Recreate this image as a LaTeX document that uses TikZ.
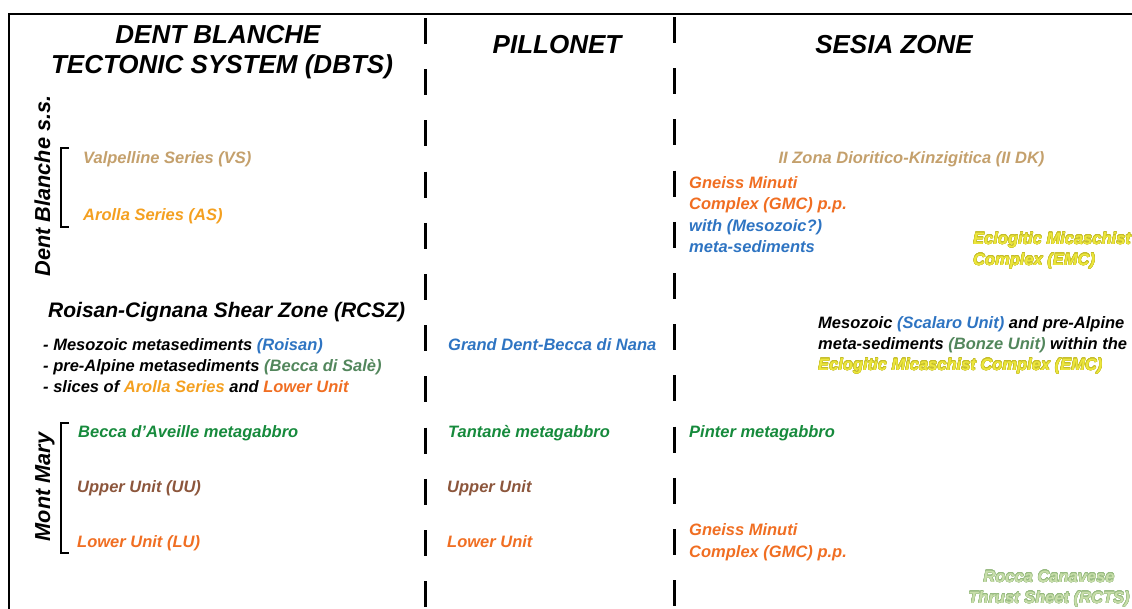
\documentclass[tikz,border=0pt]{standalone}
\usepackage{fontspec}
\setmainfont{Liberation Sans}
\usepackage{contour}
\contourlength{0.28pt}
\definecolor{ctan}{RGB}{196,160,108}
\definecolor{carolla}{RGB}{244,160,32}
\definecolor{corange}{RGB}{240,110,34}
\definecolor{cblue}{RGB}{46,116,194}
\definecolor{cgreen}{RGB}{22,138,60}
\definecolor{cgreygreen}{RGB}{82,134,92}
\definecolor{cbrown}{RGB}{140,86,60}
\definecolor{cyellowfill}{RGB}{236,230,60}
\definecolor{cyellowline}{RGB}{196,188,40}
\definecolor{crctsfill}{RGB}{200,222,170}
\definecolor{crctsline}{RGB}{150,186,128}
\tikzset{
  frame/.style={line width=2pt, black},
  sepline/.style={line width=3pt, black, dash pattern=on 26pt off 25.2pt},
  bracketline/.style={line width=1.8pt, black},
  txt/.style={inner sep=0pt, anchor=base west, font=\fontsize{16.5}{19}\selectfont\bfseries\itshape},
  ctxt/.style={txt, anchor=base},
  title/.style={inner sep=0pt, anchor=base, font=\fontsize{26}{30}\selectfont\bfseries\itshape},
  subtitle/.style={inner sep=0pt, anchor=base west, font=\fontsize{21}{25}\selectfont\bfseries\itshape},
  vlabel/.style={inner sep=0pt, anchor=base, rotate=90, font=\fontsize{21.7}{25}\selectfont\bfseries\itshape},
}
\newcommand{\emcout}[1]{{\color{cyellowfill}\contour{cyellowline}{#1}}}
\newcommand{\rctsout}[1]{{\color{crctsfill}\contour{crctsline}{#1}}}
\begin{document}
\begin{tikzpicture}[x=1pt,y=-1pt]
\useasboundingbox (0,0) rectangle (1132,608);
\clip (0,0) rectangle (1132,608);
% frame
\coordinate (fbl) at (9,609);
\coordinate (ftl) at (9,14);
\coordinate (ftr) at (1133,14);
\draw[frame] (fbl) -- (ftl) -- (ftr);
% column separators
\coordinate (s1t) at (425,18);
\coordinate (s1b) at (425,640);
\coordinate (s2t) at (674,17);
\coordinate (s2b) at (674,640);
\draw[sepline] (s1t) -- (s1b);
\draw[sepline] (s2t) -- (s2b);
% titles
\node[title] (t1) at (218,43) {DENT BLANCHE};
\node[title] (t2) at (222,73) {TECTONIC SYSTEM (DBTS)};
\node[title] (t3) at (557,53) {PILLONET};
\node[title] (t4) at (894,53) {SESIA ZONE};
% Dent Blanche s.s.
\node[vlabel] (dbss) at (50,186) {Dent Blanche s.s.};
\coordinate (b1a) at (69,148);
\coordinate (b1b) at (61,148);
\coordinate (b1c) at (61,227);
\coordinate (b1d) at (69,227);
\draw[bracketline] (b1a) -- (b1b) -- (b1c) -- (b1d);
\node[txt, text=ctan] (vs) at (83,163) {Valpelline Series (VS)};
\node[txt, text=carolla] (as) at (83,220) {Arolla Series (AS)};
% Sesia upper
\node[ctxt, text=ctan] (iidk) at (911.5,163) {II Zona Dioritico-Kinzigitica (II DK)};
\node[txt, text=corange] (gmc1) at (689,188) {Gneiss Minuti};
\node[txt, text=corange] (gmc2) at (689,209) {Complex (GMC) p.p.};
\node[txt, text=cblue] (gmc3) at (689,231) {with (Mesozoic?)};
\node[txt, text=cblue] (gmc4) at (689,252) {meta-sediments};
\node[txt] (emc1) at (973,244) {\emcout{Eclogitic Micaschist}};
\node[txt] (emc2) at (973,265) {\emcout{Complex (EMC)}};
% RCSZ
\node[subtitle] (rcsz) at (48,317) {Roisan-Cignana Shear Zone (RCSZ)};
\node[txt] (r1) at (43,350) {- Mesozoic metasediments \textcolor{cblue}{(Roisan)}};
\node[txt] (r2) at (43,371) {- pre-Alpine metasediments \textcolor{cgreygreen}{(Becca di Salè)}};
\node[txt] (r3) at (43,392) {- slices of \textcolor{carolla}{Arolla Series} and \textcolor{corange}{Lower Unit}};
\node[txt, text=cblue] (gdbn) at (448,350) {Grand Dent-Becca di Nana};
\node[txt] (sc1) at (818,328) {Mesozoic \textcolor{cblue}{(Scalaro Unit)} and pre-Alpine};
\node[txt] (sc2) at (818,349) {meta-sediments \textcolor{cgreygreen}{(Bonze Unit)} within the};
\node[txt] (sc3) at (818,370) {\emcout{Eclogitic Micaschist Complex (EMC)}};
% Mont Mary
\node[vlabel] (mm) at (50,487) {Mont Mary};
\coordinate (b2a) at (69,423);
\coordinate (b2b) at (61,423);
\coordinate (b2c) at (61,553);
\coordinate (b2d) at (69,553);
\draw[bracketline] (b2a) -- (b2b) -- (b2c) -- (b2d);
\node[txt, text=cgreen] (ba) at (78,437) {Becca d’Aveille metagabbro};
\node[txt, text=cbrown] (uu) at (77,492) {Upper Unit (UU)};
\node[txt, text=corange] (lu) at (77,547) {Lower Unit (LU)};
\node[txt, text=cgreen] (tm) at (448,437) {Tantanè metagabbro};
\node[txt, text=cbrown] (pu) at (447,492) {Upper Unit};
\node[txt, text=corange] (pl) at (447,547) {Lower Unit};
\node[txt, text=cgreen] (pm) at (689,437) {Pinter metagabbro};
\node[txt, text=corange] (g2a) at (689,535) {Gneiss Minuti};
\node[txt, text=corange] (g2b) at (689,557) {Complex (GMC) p.p.};
\node[ctxt] (rc1) at (1049,582) {\rctsout{Rocca Canavese}};
\node[ctxt] (rc2) at (1049,603) {\rctsout{Thrust Sheet (RCTS)}};
\end{tikzpicture}
\end{document}
